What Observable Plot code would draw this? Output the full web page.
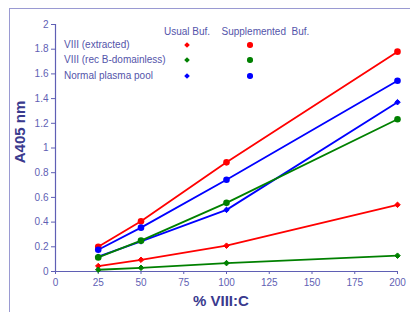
<!DOCTYPE html>
<html><head><meta charset="utf-8">
<script src="https://cdn.jsdelivr.net/npm/d3@7"></script>
<script src="https://cdn.jsdelivr.net/npm/@observablehq/plot@0.6"></script>
<style>
body{margin:0;background:#fff;}
#wrap{position:relative;width:410px;height:312px;overflow:hidden;font-family:"Liberation Sans",Arial,sans-serif;}
#frame{position:absolute;left:9px;top:8px;width:430px;height:330px;border:1.5px solid #9a9ad2;box-sizing:border-box;}
#chart{position:absolute;left:0;top:0;}
.lg{position:absolute;font-size:10px;color:#5454aa;white-space:pre;line-height:12px;}
.mk{position:absolute;}
.circ{border-radius:50%;width:5.5px;height:5.5px;}
.diam{transform:rotate(45deg);width:4px;height:4px;}
.axl{position:absolute;font-size:15px;font-weight:bold;color:#3a3a8e;white-space:nowrap;line-height:16px;}
</style></head>
<body>
<div id="wrap"><div id="frame"></div><div id="chart"></div></div>
<script>
const xValues = [25, 50, 100, 200];
const extractedUsual = [0.044, 0.095, 0.209, 0.54];
const extractedSupp = [0.20, 0.407, 0.884, 1.78];
const recUsual = [0.014, 0.03, 0.068, 0.128];
const recSupp = [0.114, 0.25, 0.556, 1.233];
const plasmaUsual = [0.12, 0.244, 0.499, 1.371];
const plasmaSupp = [0.176, 0.355, 0.743, 1.545];
const seriesNames = ["VIII (extracted)", "VIII (rec B-domainless)", "Normal plasma pool"];
const seriesColors = ["#ff0000", "#008000", "#0000ff"];
const bufferNames = ["Usual Buf.", "Supplemented  Buf."];
const xTicks = [0, 25, 50, 75, 100, 125, 150, 175, 200];
const yTicks = [0, 0.2, 0.4, 0.6, 0.8, 1, 1.2, 1.4, 1.6, 1.8, 2];
const xLabel = "% VIII:C";
const yLabel = "A405 nm";

const usualSets = [extractedUsual, recUsual, plasmaUsual];
const suppSets = [extractedSupp, recSupp, plasmaSupp];
const rows = [];
seriesNames.forEach((name, i) => {
  xValues.forEach((x, j) => {
    rows.push({series: name, buffer: "usual", key: name + "|u", x, y: usualSets[i][j], color: seriesColors[i]});
    rows.push({series: name, buffer: "supp", key: name + "|s", x, y: suppSets[i][j], color: seriesColors[i]});
  });
});
const usualRows = rows.filter(d => d.buffer === "usual");
const suppRows = rows.filter(d => d.buffer === "supp");
const axisColor = "#5f5fb4";

const plot = Plot.plot({
  width: 410, height: 312,
  marginLeft: 55, marginRight: 13, marginTop: 24, marginBottom: 41,
  style: {fontFamily: "'Liberation Sans', Arial, sans-serif", fontSize: "10px", background: "transparent"},
  x: {domain: [0, 200]},
  y: {domain: [0, 2]},
  color: {type: "identity"},
  marks: [
    Plot.ruleY([0], {stroke: axisColor, strokeWidth: 1.2}),
    Plot.ruleX([0], {stroke: axisColor, strokeWidth: 1.2}),
    Plot.axisX({ticks: xTicks, tickSize: 3, tickPadding: 4, label: null, color: axisColor, fontSize: 10}),
    Plot.axisY({ticks: yTicks, tickSize: 4, tickPadding: 3, label: null, color: axisColor, fontSize: 10, tickFormat: d => String(d)}),
    Plot.line(usualRows, {x: "x", y: "y", z: "key", stroke: "color", strokeWidth: 1.8}),
    Plot.line(suppRows, {x: "x", y: "y", z: "key", stroke: "color", strokeWidth: 1.8}),
    Plot.dot(usualRows, {x: "x", y: "y", symbol: "diamond2", r: 2.5, fill: "color", stroke: "color", strokeWidth: 1}),
    Plot.dot(suppRows, {x: "x", y: "y", symbol: "circle", r: 3.3, fill: "color"})
  ]
});
document.getElementById("chart").appendChild(plot);

const wrap = document.getElementById("wrap");
function addDiv(cls, text, left, top, style) {
  const d = document.createElement("div");
  d.className = cls;
  if (text != null) d.textContent = text;
  d.style.left = left + "px"; d.style.top = top + "px";
  if (style) Object.assign(d.style, style);
  wrap.appendChild(d);
  return d;
}
// legend header
addDiv("lg", bufferNames[0], 164, 25.5);
addDiv("lg", bufferNames[1], 221.5, 25.5);
const rowY = [45, 60, 76];
seriesNames.forEach((name, i) => {
  addDiv("lg", name, 64, rowY[i] - 6);
  addDiv("mk diam", null, 184.7, rowY[i] - 2, {background: seriesColors[i]});
  addDiv("mk circ", null, 247.2, rowY[i] - 2.75, {background: seriesColors[i]});
});
// axis labels
addDiv("axl", xLabel, 193, 293);
const yl = addDiv("axl", yLabel, 0, 0);
const w = yl.offsetWidth;
yl.style.left = (20 - w / 2) + "px";
yl.style.top = (132 - 8) + "px";
yl.style.transform = "rotate(-90deg)";
</script>
</body></html>
